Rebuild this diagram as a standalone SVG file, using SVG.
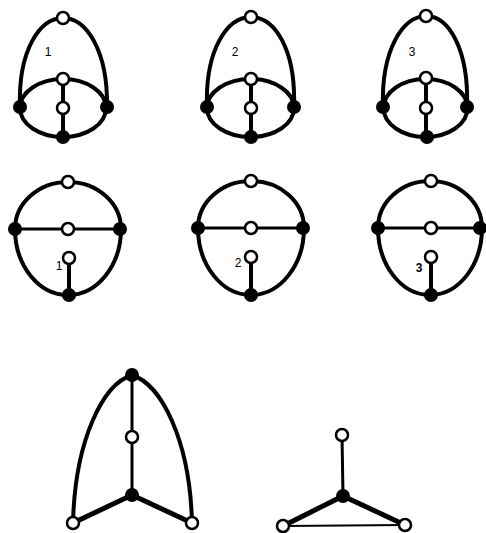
<svg xmlns="http://www.w3.org/2000/svg" width="486" height="533" viewBox="0 0 486 533">
<style>
.e{fill:none;stroke:#000;stroke-width:4;stroke-linecap:round}
.m{fill:none;stroke:#000;stroke-width:3}
.n{fill:none;stroke:#000;stroke-width:2.2}
.k{fill:none;stroke:#000;stroke-width:5}
.w{fill:#fff;stroke:#000;stroke-width:2.5}
.b{fill:#000}
text{font-family:"Liberation Sans",Arial,sans-serif;font-size:12px;text-anchor:middle;fill:#000}
</style>
<rect width="486" height="533" fill="#fff"/>
<g id="connectors">
  <!-- top row figure 1 -->
  <path class="e" d="M20,107 C18,50 40,18 63,18 C86,18 108,50 107,107"/>
  <ellipse class="e" cx="63" cy="108" rx="43" ry="29"/>
  <line class="e" x1="63" y1="79" x2="63" y2="137"/>
  <!-- top row figure 2 -->
  <path class="e" d="M207,107 C205,50 227,17 251,17 C275,17 296,50 294,107"/>
  <ellipse class="e" cx="250.5" cy="108" rx="43.5" ry="29"/>
  <line class="e" x1="251" y1="79" x2="251" y2="137"/>
  <!-- top row figure 3 -->
  <path class="e" d="M383,107 C381,50 403,16 426,16 C449,16 469,50 467,107"/>
  <ellipse class="e" cx="425.5" cy="108" rx="42" ry="29"/>
  <line class="e" x1="426" y1="78" x2="426" y2="137"/>
  <!-- row 2 figure 1 -->
  <path class="e" d="M15,229 A53,47 0 0 1 121,229 A53,66 0 0 1 15,229 Z"/>
  <line class="m" x1="15" y1="229" x2="120" y2="229"/>
  <line class="e" x1="69" y1="258" x2="69" y2="295"/>
  <!-- row 2 figure 2 -->
  <path class="e" d="M198,228 A53,47 0 0 1 304,228 A53,67 0 0 1 198,228 Z"/>
  <line class="m" x1="198" y1="228" x2="303" y2="228"/>
  <line class="e" x1="251" y1="257" x2="251" y2="295"/>
  <!-- row 2 figure 3 -->
  <path class="e" d="M378,228 A52,47 0 0 1 482,228 A52,67 0 0 1 378,228 Z"/>
  <line class="m" x1="378" y1="228" x2="480" y2="228"/>
  <line class="e" x1="431" y1="257" x2="431" y2="295"/>
  <!-- bottom left figure -->
  <path class="e" d="M73,523 C75,440 103,384 132,375 C161,384 190,440 192,523"/>
  <line class="m" x1="132" y1="375" x2="132" y2="495"/>
  <line class="k" x1="132" y1="495" x2="73" y2="523"/>
  <line class="k" x1="132" y1="495" x2="192" y2="523"/>
  <!-- bottom right figure -->
  <line class="m" x1="342" y1="435" x2="343" y2="496"/>
  <line class="k" x1="343" y1="496" x2="283" y2="526"/>
  <line class="k" x1="343" y1="496" x2="405" y2="525"/>
  <line class="n" x1="283" y1="526" x2="405" y2="525"/>
</g>
<!-- top row figure 1 nodes -->
<g id="a1-top"><circle class="w" cx="63" cy="18" r="6"/></g>
<g id="a1-inner"><circle class="w" cx="63" cy="79" r="6"/></g>
<g id="a1-mid"><circle class="w" cx="63" cy="108" r="6"/></g>
<g id="a1-left"><circle class="b" cx="20" cy="107" r="7"/></g>
<g id="a1-right"><circle class="b" cx="107" cy="107" r="7"/></g>
<g id="a1-bottom"><circle class="b" cx="63" cy="137" r="7"/></g>
<g id="a1-label"><text x="48" y="56">1</text></g>
<!-- top row figure 2 nodes -->
<g id="a2-top"><circle class="w" cx="251" cy="17" r="6"/></g>
<g id="a2-inner"><circle class="w" cx="251" cy="79" r="6"/></g>
<g id="a2-mid"><circle class="w" cx="251" cy="108" r="6"/></g>
<g id="a2-left"><circle class="b" cx="207" cy="107" r="7"/></g>
<g id="a2-right"><circle class="b" cx="294" cy="107" r="7"/></g>
<g id="a2-bottom"><circle class="b" cx="251" cy="137" r="7"/></g>
<g id="a2-label"><text x="235" y="56">2</text></g>
<!-- top row figure 3 nodes -->
<g id="a3-top"><circle class="w" cx="426" cy="16" r="6"/></g>
<g id="a3-inner"><circle class="w" cx="426" cy="78" r="6"/></g>
<g id="a3-mid"><circle class="w" cx="426" cy="108" r="6"/></g>
<g id="a3-left"><circle class="b" cx="383" cy="107" r="7"/></g>
<g id="a3-right"><circle class="b" cx="467" cy="107" r="7"/></g>
<g id="a3-bottom"><circle class="b" cx="427" cy="137" r="7"/></g>
<g id="a3-label"><text x="412" y="56">3</text></g>
<!-- row 2 figure 1 nodes -->
<g id="b1-top"><circle class="w" cx="68" cy="182" r="6"/></g>
<g id="b1-mid"><circle class="w" cx="68" cy="229" r="6"/></g>
<g id="b1-stub"><circle class="w" cx="69" cy="258" r="6"/></g>
<g id="b1-left"><circle class="b" cx="15" cy="229" r="7"/></g>
<g id="b1-right"><circle class="b" cx="120" cy="229" r="7"/></g>
<g id="b1-bottom"><circle class="b" cx="69" cy="295" r="7"/></g>
<g id="b1-label"><text x="59" y="270">1</text></g>
<!-- row 2 figure 2 nodes -->
<g id="b2-top"><circle class="w" cx="251" cy="181" r="6"/></g>
<g id="b2-mid"><circle class="w" cx="251" cy="228" r="6"/></g>
<g id="b2-stub"><circle class="w" cx="251" cy="257" r="6"/></g>
<g id="b2-left"><circle class="b" cx="198" cy="228" r="7"/></g>
<g id="b2-right"><circle class="b" cx="303" cy="228" r="7"/></g>
<g id="b2-bottom"><circle class="b" cx="251" cy="295" r="7"/></g>
<g id="b2-label"><text x="238" y="267">2</text></g>
<!-- row 2 figure 3 nodes -->
<g id="b3-top"><circle class="w" cx="431" cy="181" r="6"/></g>
<g id="b3-mid"><circle class="w" cx="431" cy="228" r="6"/></g>
<g id="b3-stub"><circle class="w" cx="431" cy="257" r="6"/></g>
<g id="b3-left"><circle class="b" cx="378" cy="228" r="7"/></g>
<g id="b3-right"><circle class="b" cx="480" cy="228" r="7"/></g>
<g id="b3-bottom"><circle class="b" cx="431" cy="295" r="7"/></g>
<g id="b3-label"><text x="419" y="272" font-weight="bold">3</text></g>
<!-- bottom left figure nodes -->
<g id="c1-top"><circle class="b" cx="132" cy="375" r="7"/></g>
<g id="c1-mid"><circle class="w" cx="132" cy="437" r="6"/></g>
<g id="c1-center"><circle class="b" cx="132" cy="495" r="7"/></g>
<g id="c1-left"><circle class="w" cx="73" cy="523" r="6"/></g>
<g id="c1-right"><circle class="w" cx="192" cy="523" r="6"/></g>
<!-- bottom right figure nodes -->
<g id="d1-top"><circle class="w" cx="342" cy="435" r="6"/></g>
<g id="d1-center"><circle class="b" cx="343" cy="496" r="7"/></g>
<g id="d1-left"><circle class="w" cx="283" cy="526" r="6"/></g>
<g id="d1-right"><circle class="w" cx="405" cy="525" r="6"/></g>
</svg>
